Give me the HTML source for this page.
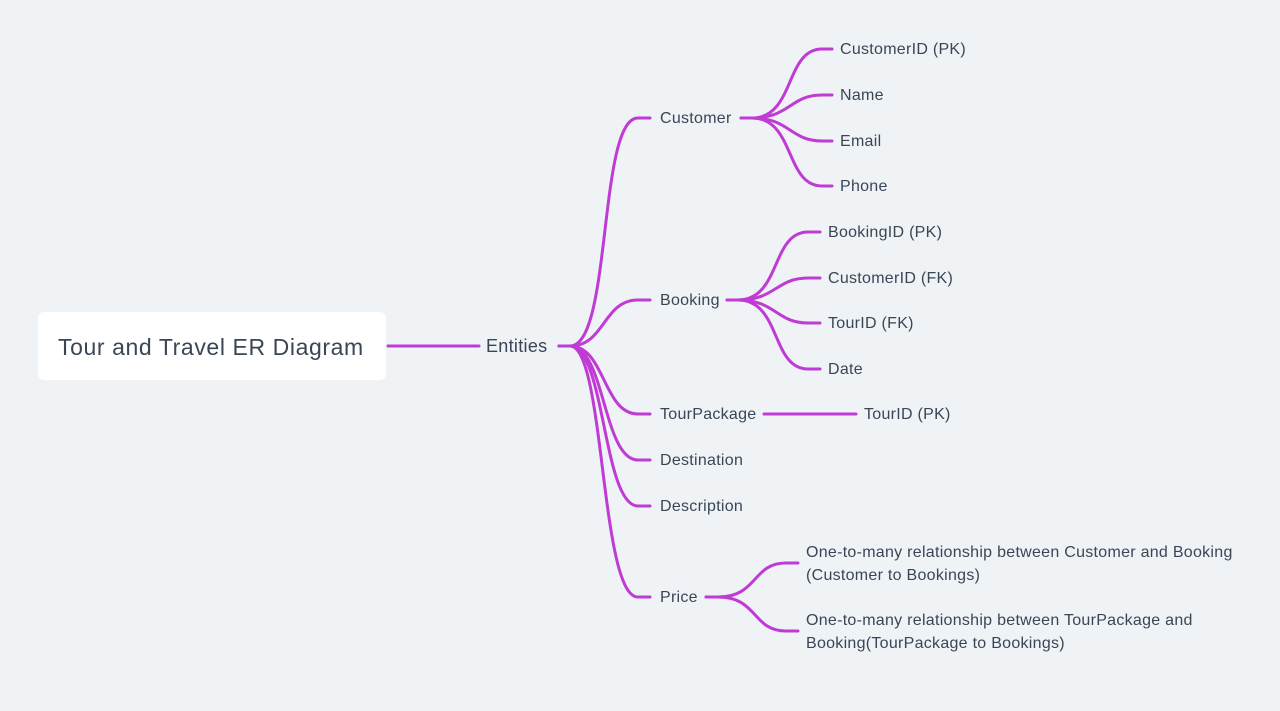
<!DOCTYPE html>
<html><head><meta charset="utf-8"><style>
html,body{margin:0;padding:0;background:#eff3f6;width:1280px;height:711px;overflow:hidden}
text{font-family:"Liberation Sans",sans-serif;fill:#3a4656;font-size:16px;letter-spacing:0.28px}
</style></head><body>
<svg width="1280" height="711" viewBox="0 0 1280 711" xmlns="http://www.w3.org/2000/svg">
<rect width="1280" height="711" fill="#eff3f6"/>
<rect x="38" y="312" width="348" height="68" rx="6" fill="#ffffff"/>
<text x="58" y="355" style="font-size:23px;letter-spacing:0.6px">Tour and Travel ER Diagram</text>
<g fill="none" stroke="#c03bd4" stroke-width="3" stroke-linecap="round">
<path d="M388,346 L479,346"/>
<path d="M559,346 L570,346 C612,346 598,118 638,118 L650,118"/>
<path d="M559,346 L570,346 C605,346 603,300 638,300 L650,300"/>
<path d="M559,346 L570,346 C605,346 603,414 638,414 L650,414"/>
<path d="M559,346 L570,346 C605,346 603,460 638,460 L650,460"/>
<path d="M559,346 L570,346 C605,346 603,506 638,506 L650,506"/>
<path d="M559,346 L570,346 C605,346 600,597 638,597 L650,597"/>
<path d="M741,118 L752,118 C795,118 785,49 822,49 L832,49"/>
<path d="M741,118 L752,118 C790,118 790,95 822,95 L832,95"/>
<path d="M741,118 L752,118 C790,118 790,141 822,141 L832,141"/>
<path d="M741,118 L752,118 C795,118 785,186 822,186 L832,186"/>
<path d="M727,300 L738,300 C781,300 771,232 808,232 L820,232"/>
<path d="M727,300 L738,300 C776,300 776,278 808,278 L820,278"/>
<path d="M727,300 L738,300 C776,300 776,323 808,323 L820,323"/>
<path d="M727,300 L738,300 C781,300 771,369 808,369 L820,369"/>
<path d="M764,414 L856,414"/>
<path d="M706,597 L718,597 C758,597 752,563 786,563 L798,563"/>
<path d="M706,597 L718,597 C758,597 752,631 786,631 L798,631"/>
</g>
<text x="486" y="352" style="font-size:18px;letter-spacing:0.3px">Entities</text>
<text x="660" y="123">Customer</text>
<text x="660" y="305">Booking</text>
<text x="660" y="419">TourPackage</text>
<text x="660" y="465">Destination</text>
<text x="660" y="511">Description</text>
<text x="660" y="602">Price</text>
<text x="840" y="54">CustomerID (PK)</text>
<text x="840" y="100">Name</text>
<text x="840" y="146">Email</text>
<text x="840" y="191">Phone</text>
<text x="828" y="237">BookingID (PK)</text>
<text x="828" y="283">CustomerID (FK)</text>
<text x="828" y="328">TourID (FK)</text>
<text x="828" y="374">Date</text>
<text x="864" y="419">TourID (PK)</text>
<text x="806" y="557">One-to-many relationship between Customer and Booking</text>
<text x="806" y="580">(Customer to Bookings)</text>
<text x="806" y="625">One-to-many relationship between TourPackage and</text>
<text x="806" y="648">Booking(TourPackage to Bookings)</text>
</svg>
</body></html>
